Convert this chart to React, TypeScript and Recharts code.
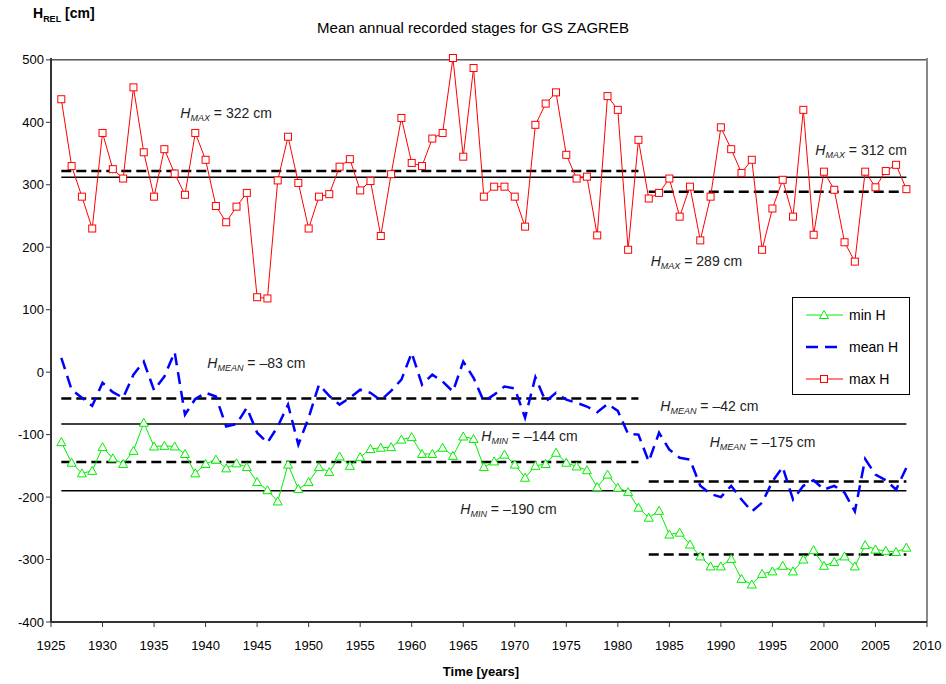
import React from "react"
import {
  LineChart,
  Line,
  XAxis,
  YAxis,
  ReferenceLine,
  Legend,
} from "recharts"

const years = [
  1926, 1927, 1928, 1929, 1930, 1931, 1932, 1933, 1934, 1935,
  1936, 1937, 1938, 1939, 1940, 1941, 1942, 1943, 1944, 1945,
  1946, 1947, 1948, 1949, 1950, 1951, 1952, 1953, 1954, 1955,
  1956, 1957, 1958, 1959, 1960, 1961, 1962, 1963, 1964, 1965,
  1966, 1967, 1968, 1969, 1970, 1971, 1972, 1973, 1974, 1975,
  1976, 1977, 1978, 1979, 1980, 1981, 1982, 1983, 1984, 1985,
  1986, 1987, 1988, 1989, 1990, 1991, 1992, 1993, 1994, 1995,
  1996, 1997, 1998, 1999, 2000, 2001, 2002, 2003, 2004, 2005,
  2006, 2007, 2008,
]

const maxH = [
  437, 330, 281, 230, 383, 325, 310, 456, 352, 281,
  357, 318, 284, 383, 340, 266, 240, 265, 287, 120,
  118, 307, 377, 303, 230, 281, 285, 329, 341, 291,
  306, 218, 317, 407, 335, 330, 374, 383, 503, 345,
  487, 281, 297, 297, 281, 233, 396, 430, 448, 348,
  310, 313, 219, 442, 420, 196, 372, 278, 287, 310,
  249, 297, 211, 281, 392, 357, 319, 340, 196, 262,
  308, 249, 420, 220, 321, 292, 208, 177, 321, 296,
  322, 332, 293,
]

const meanH = [
  23, -28, -41, -54, -17, -32, -41, -4, 17, -29,
  -7, 32, -68, -43, -33, -39, -87, -83, -57, -97,
  -113, -87, -52, -116, -73, -20, -38, -52, -41, -28,
  -33, -45, -30, -12, 31, -20, -4, -15, -31, 17,
  -9, -47, -36, -23, -26, -73, -8, -47, -33, -44,
  -49, -55, -64, -51, -62, -99, -100, -143, -97, -124,
  -137, -140, -182, -195, -200, -182, -204, -223, -209, -175,
  -152, -204, -182, -173, -188, -182, -193, -223, -139, -164,
  -173, -188, -153,
]

const minH = [
  -112, -145, -162, -158, -120, -138, -147, -126, -81, -119,
  -118, -119, -131, -162, -147, -140, -154, -146, -152, -176,
  -189, -207, -148, -187, -176, -152, -160, -135, -150, -136,
  -123, -121, -120, -108, -104, -131, -131, -121, -134, -103,
  -107, -152, -143, -132, -148, -169, -150, -147, -129, -145,
  -151, -157, -184, -164, -185, -192, -217, -233, -222, -260,
  -257, -276, -295, -311, -311, -299, -331, -340, -323, -319,
  -310, -319, -300, -285, -310, -304, -295, -311, -277, -284,
  -286, -288, -281,
]

const xTicks = [1925, 1930, 1935, 1940, 1945, 1950, 1955, 1960, 1965, 1970, 1975, 1980, 1985, 1990, 1995, 2000, 2005, 2010]
const yTicks = [-400, -300, -200, -100, 0, 100, 200, 300, 400, 500]

// long-term averages: full period, 1926-1982, 1983-2008
const fullAvg = { max: 312, mean: -83, min: -190 }
const earlyAvg = { max: 322, mean: -42, min: -144 }
const lateAvg = { max: 289, mean: -175, min: -292 }
const periods = { start: 1926, split: 1982, lateStart: 1983, end: 2008 }

const data = years.map((year, i) => ({
  year,
  minH: minH[i],
  meanH: meanH[i],
  maxH: maxH[i],
}))

const FONT = '"Liberation Sans", Arial, sans-serif'

const SquareDot = (props: any) => {
  const { cx, cy } = props
  if (cx == null || cy == null) return null
  return <rect x={cx - 3.5} y={cy - 3.5} width={7} height={7} fill="#fff" stroke="#ff0000" strokeWidth={1} />
}

const TriangleDot = (props: any) => {
  const { cx, cy } = props
  if (cx == null || cy == null) return null
  return (
    <polygon
      points={`${cx},${cy - 4.5} ${cx - 4.5},${cy + 3.5} ${cx + 4.5},${cy + 3.5}`}
      fill="#fff"
      stroke="#00ee00"
      strokeWidth={1}
    />
  )
}

// text like "H_MAX = 322 cm", placed relative to the start of a reference line
const avgLabel = (sub: string, value: number, dx: number, dy: number) => (props: any) => {
  const vb = props.viewBox || {}
  const sign = value < 0 ? "\u2013" : ""
  return (
    <text x={vb.x + dx} y={vb.y + dy} fontFamily={FONT} fontSize={14} fill="#222">
      <tspan fontStyle="italic">H</tspan>
      <tspan fontStyle="italic" fontSize={9} dy={3}>{sub}</tspan>
      <tspan dy={-3}>{`  = ${sign}${Math.abs(value)} cm`}</tspan>
    </text>
  )
}

const renderLegend = () => (
  <div style={{ width: 118, height: 98, border: "1px solid #000", background: "#fff", boxSizing: "border-box" }}>
    <svg width={116} height={96} style={{ display: "block" }}>
      <line x1={13} y1={17} x2={50} y2={17} stroke="#00ee00" strokeWidth={1} />
      <TriangleDot cx={31} cy={17} />
      <text x={56} y={22} fontFamily={FONT} fontSize={14} fill="#000">min H</text>
      <line x1={13} y1={49} x2={50} y2={49} stroke="#0000ff" strokeWidth={2.5} strokeDasharray="12 7" />
      <text x={56} y={54} fontFamily={FONT} fontSize={14} fill="#000">mean H</text>
      <line x1={13} y1={81} x2={50} y2={81} stroke="#ff0000" strokeWidth={1} />
      <SquareDot cx={31} cy={81} />
      <text x={56} y={86} fontFamily={FONT} fontSize={14} fill="#000">max H</text>
    </svg>
  </div>
)

const seg = (from: number, to: number, y: number) => [
  { x: from, y },
  { x: to, y },
]

export default function App() {
  return (
    <div style={{ position: "absolute", left: 0, top: 0, width: 946, height: 684, background: "#fff", fontFamily: FONT }}>
      <div style={{ position: "absolute", left: 0, width: 946, top: 19, textAlign: "center", fontSize: 15, color: "#000" }}>
        Mean annual recorded stages for GS ZAGREB
      </div>
      <div style={{ position: "absolute", left: 33, top: 5, fontSize: 14, fontWeight: "bold", color: "#000" }}>
        H<sub style={{ fontSize: 9 }}>REL</sub> [cm]
      </div>
      <div style={{ position: "absolute", left: 0, width: 962, top: 664, textAlign: "center", fontSize: 13, fontWeight: "bold", color: "#000" }}>
        Time [years]
      </div>
      <LineChart width={946} height={684} data={data} margin={{ top: 58, right: 19, bottom: 22, left: 0 }}>
        <XAxis
          dataKey="year"
          type="number"
          domain={[1925, 2010]}
          ticks={xTicks}
          interval={0}
          height={40}
          tickSize={5}
          tickMargin={14}
          axisLine={{ stroke: "#333", strokeWidth: 2 }}
          tickLine={{ stroke: "#333" }}
          tick={{ fontSize: 13, fill: "#000", fontFamily: FONT }}
        />
        <YAxis
          type="number"
          domain={[-400, 500]}
          ticks={yTicks}
          interval={0}
          width={51}
          tickSize={5}
          axisLine={{ stroke: "#333", strokeWidth: 2 }}
          tickLine={{ stroke: "#333" }}
          tick={{ fontSize: 13, fill: "#000", fontFamily: FONT }}
        />
        <ReferenceLine y={500} stroke="#000" strokeWidth={1} />
        <ReferenceLine x={2010} stroke="#888" strokeWidth={2} />

        <ReferenceLine segment={seg(periods.start, periods.end, fullAvg.max)} stroke="#000" strokeWidth={1.5}
          label={avgLabel("MAX", fullAvg.max, 754, -22)} />
        <ReferenceLine segment={seg(periods.start, periods.end, fullAvg.mean)} stroke="#000" strokeWidth={1.5}
          label={avgLabel("MEAN", fullAvg.mean, 146, -56)} />
        <ReferenceLine segment={seg(periods.start, periods.end, fullAvg.min)} stroke="#000" strokeWidth={1.5}
          label={avgLabel("MIN", fullAvg.min, 399, 23)} />

        <ReferenceLine segment={seg(periods.start, periods.split, earlyAvg.max)} stroke="#000" strokeWidth={2.5} strokeDasharray="10 5"
          label={avgLabel("MAX", earlyAvg.max, 119, -53)} />
        <ReferenceLine segment={seg(periods.start, periods.split, earlyAvg.mean)} stroke="#000" strokeWidth={2.5} strokeDasharray="10 5"
          label={avgLabel("MEAN", earlyAvg.mean, 599, 13)} />
        <ReferenceLine segment={seg(periods.start, periods.split, earlyAvg.min)} stroke="#000" strokeWidth={2.5} strokeDasharray="10 5"
          label={avgLabel("MIN", earlyAvg.min, 420, -21)} />

        <ReferenceLine segment={seg(periods.lateStart, periods.end, lateAvg.max)} stroke="#000" strokeWidth={2.5} strokeDasharray="10 5"
          label={avgLabel("MAX", lateAvg.max, 2, 74)} />
        <ReferenceLine segment={seg(periods.lateStart, periods.end, lateAvg.mean)} stroke="#000" strokeWidth={2.5} strokeDasharray="10 5"
          label={avgLabel("MEAN", lateAvg.mean, 61, -34)} />
        <ReferenceLine segment={seg(periods.lateStart, periods.end, lateAvg.min)} stroke="#000" strokeWidth={2.5} strokeDasharray="10 5" />

        <Line dataKey="maxH" name="max H" stroke="#ff0000" strokeWidth={1} dot={<SquareDot />} activeDot={false} isAnimationActive={false} />
        <Line dataKey="meanH" name="mean H" stroke="#0000ff" strokeWidth={2.5} strokeDasharray="12 7" dot={false} activeDot={false} isAnimationActive={false} />
        <Line dataKey="minH" name="min H" stroke="#00ee00" strokeWidth={1} dot={<TriangleDot />} activeDot={false} isAnimationActive={false} />

        <Legend
          layout="vertical"
          align="center"
          verticalAlign="middle"
          content={renderLegend}
          wrapperStyle={{ position: "absolute", left: 792, top: 297, width: 118, height: 98 }}
        />
      </LineChart>
    </div>
  )
}
